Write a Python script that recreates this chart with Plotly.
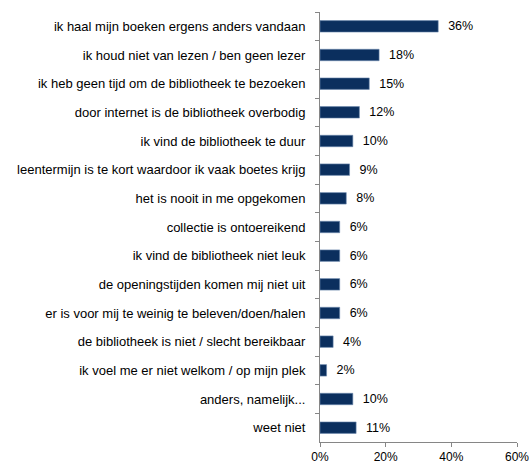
import plotly.graph_objects as go

# Reasons for not visiting the library (share of respondents, %)
categories = [
    "ik haal mijn boeken ergens anders vandaan",
    "ik houd niet van lezen / ben geen lezer",
    "ik heb geen tijd om de bibliotheek te bezoeken",
    "door internet is de bibliotheek overbodig",
    "ik vind de bibliotheek te duur",
    "leentermijn is te kort waardoor ik vaak boetes krijg",
    "het is nooit in me opgekomen",
    "collectie is ontoereikend",
    "ik vind de bibliotheek niet leuk",
    "de openingstijden komen mij niet uit",
    "er is voor mij te weinig te beleven/doen/halen",
    "de bibliotheek is niet / slecht bereikbaar",
    "ik voel me er niet welkom / op mijn plek",
    "anders, namelijk...",
    "weet niet",
]
values = [36, 18, 15, 12, 10, 9, 8, 6, 6, 6, 6, 4, 2, 10, 11]
x_ticks = [0, 20, 40, 60]
x_tick_labels = ["0%", "20%", "40%", "60%"]

font_family = "Liberation Sans, Arial, sans-serif"
axis_color = "#868686"

fig = go.Figure(
    go.Bar(
        x=values,
        y=categories,
        orientation="h",
        marker=dict(color="#0B2F5E", line=dict(color="#6F8BB0", width=0.6)),
        text=values,
        texttemplate="\u00a0\u00a0%{x}%",
        textposition="outside",
        constraintext="none",
        textfont=dict(family=font_family, size=12.5, color="#000000"),
        cliponaxis=False,
        hoverinfo="skip",
    )
)

fig.update_layout(
    width=529,
    height=463,
    margin=dict(l=320, r=12, t=12, b=21),
    paper_bgcolor="white",
    plot_bgcolor="white",
    bargap=0.6,
    showlegend=False,
    font=dict(family=font_family, size=12, color="#000000"),
)

fig.update_xaxes(
    range=[0, 60],
    tickvals=x_ticks,
    ticktext=x_tick_labels,
    automargin=False,
    showgrid=False,
    zeroline=False,
    showline=True,
    linecolor=axis_color,
    linewidth=1,
    ticks="outside",
    ticklen=4,
    tickcolor=axis_color,
    ticklabeloverflow="allow",
    tickfont=dict(family=font_family, size=12, color="#000000"),
)

fig.update_yaxes(
    categoryorder="array",
    categoryarray=categories,
    autorange="reversed",
    automargin=False,
    showgrid=False,
    zeroline=False,
    showline=True,
    linecolor=axis_color,
    linewidth=1,
    ticks="outside",
    ticklen=4,
    tickcolor=axis_color,
    tickson="boundaries",
    ticklabelstandoff=11,
    tickfont=dict(family=font_family, size=13, color="#000000"),
)

fig.write_html("out.html")
